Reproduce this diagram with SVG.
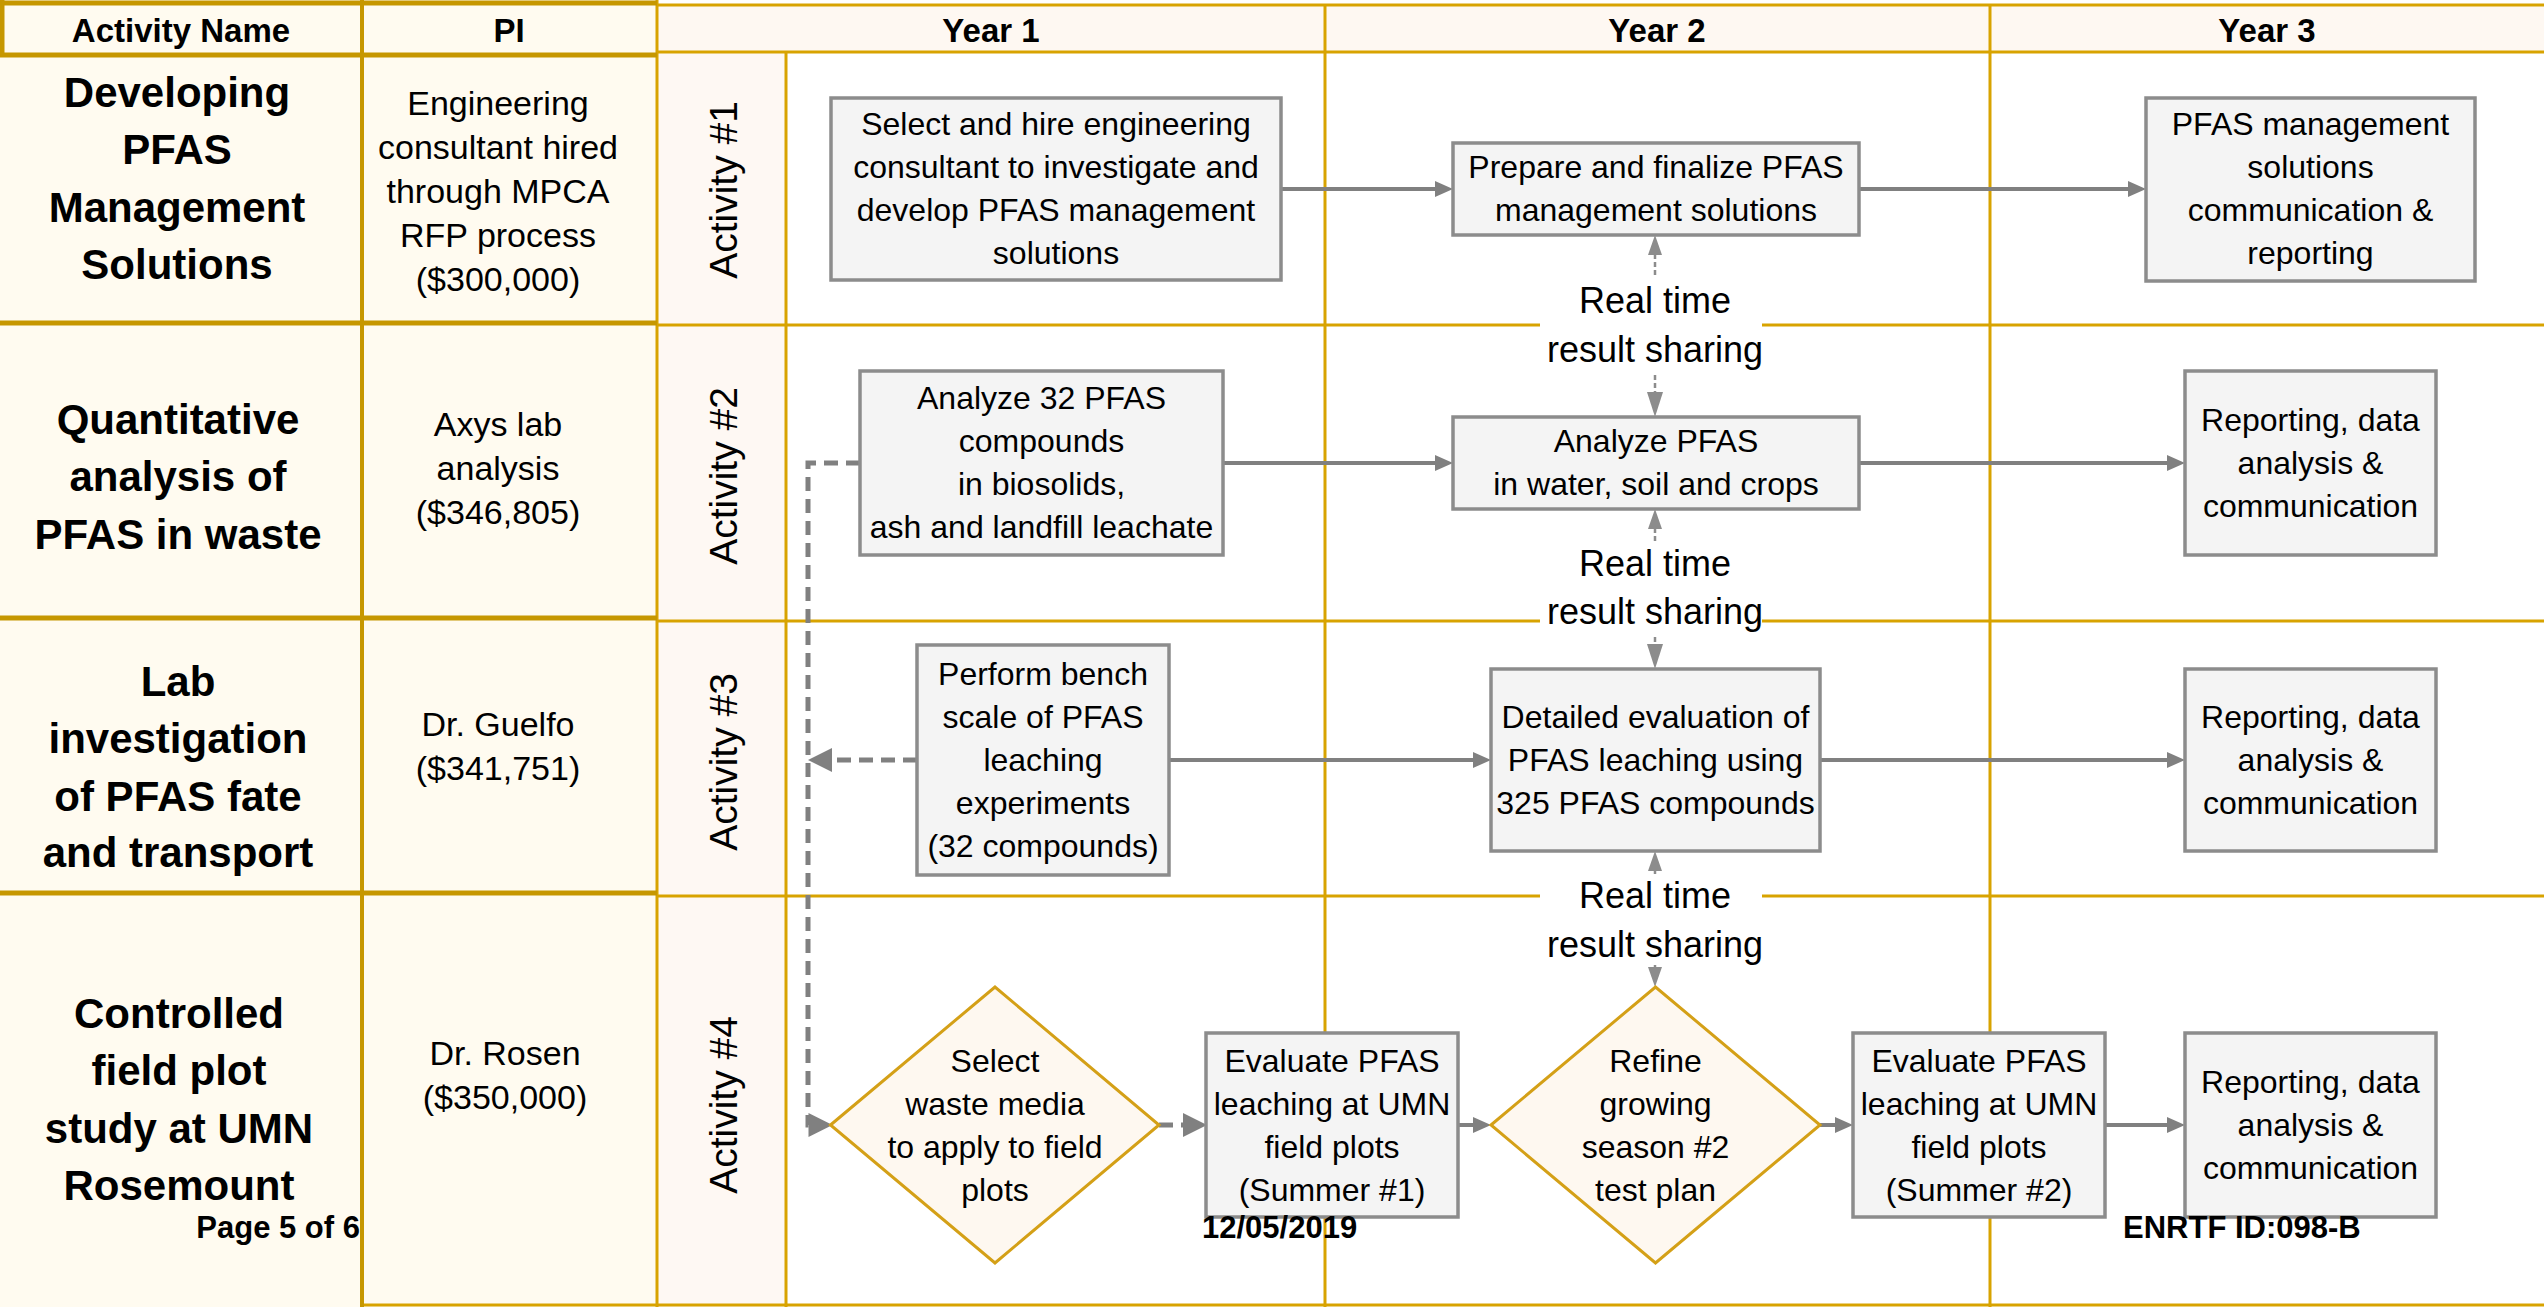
<svg xmlns="http://www.w3.org/2000/svg" width="2544" height="1307" viewBox="0 0 2544 1307">
<style>
.t{font-family:"Liberation Sans",Arial,sans-serif;font-size:32px;text-anchor:middle;fill:#000}
.pi{font-size:34px}
.lbl{font-size:42px;font-weight:bold}
.hdr{font-size:33px;font-weight:bold}
.act{font-size:39px}
.rt{font-size:36px}
.ft{font-size:31px;font-weight:bold;text-anchor:start}
.box{fill:#F4F4F4;stroke:#8C8C8C;stroke-width:3.5}
.dia{fill:#FEF8F0;stroke:#D4A017;stroke-width:3}
.gl{fill:none;stroke:#D8A300;stroke-width:3}
.gd{fill:none;stroke:#C69700;stroke-width:5}
.c{fill:none;stroke:#808080;stroke-width:4}
.dT{stroke-width:5;stroke-dasharray:14 8}
.dS{stroke:#8C8C8C;stroke-width:2.5;stroke-dasharray:5 3}
</style>
<defs>
<marker id="ah" markerUnits="userSpaceOnUse" markerWidth="18" markerHeight="16" refX="0" refY="8" orient="auto" overflow="visible"><path d="M0,0 L18,8 L0,16 z" fill="#808080"/></marker>
<marker id="ahd" markerUnits="userSpaceOnUse" markerWidth="24" markerHeight="24" refX="0" refY="12" orient="auto" overflow="visible"><path d="M0,0 L24,12 L0,24 z" fill="#808080"/></marker>
<marker id="ahs" markerUnits="userSpaceOnUse" markerWidth="20" markerHeight="14" refX="0" refY="7" orient="auto" overflow="visible"><path d="M0,0 L20,7 L0,14 z" fill="#8C8C8C"/></marker>
<marker id="ahl" markerUnits="userSpaceOnUse" markerWidth="25" markerHeight="16" refX="0" refY="8" orient="auto" overflow="visible"><path d="M0,0 L25,8 L0,16 z" fill="#8C8C8C"/></marker>
</defs>

<g id="background">
<rect x="0" y="0" width="2544" height="1307" fill="#FFFFFF"/>
<rect x="0" y="0" width="657" height="1307" fill="#FFFBF0"/>
<rect x="657" y="5" width="1887" height="47" fill="#FEF8F2"/>
<rect x="657" y="52" width="129" height="1255" fill="#FEF8F3"/>
</g>

<g id="grid">
<path class="gl" d="M657,0 V1307 M657,5 H2544 M657,52 H2544 M786,52 V1307 M1325,5 V1307 M1990,5 V1307 M657,325 H1540 M1762,325 H2544 M657,621 H1540 M1762,621 H2544 M657,896 H1540 M1762,896 H2544 M362,1305 H2544"/>
<path class="gd" d="M0,3 H657 M0,55 H657 M0,323 H657 M0,618 H657 M0,893 H657 M2,0 V55"/>
<path class="gd" style="stroke-width:4" d="M362,0 V1307"/>
</g>

<g id="header">
<text class="t hdr" x="181" y="42">Activity Name</text>
<text class="t hdr" x="509" y="42">PI</text>
<text class="t hdr" x="991" y="42">Year 1</text>
<text class="t hdr" x="1657" y="42">Year 2</text>
<text class="t hdr" x="2267" y="42">Year 3</text>
</g>

<g id="row1-labels">
<text class="t lbl" x="177" y="107">Developing<tspan x="177" dy="57">PFAS</tspan><tspan x="177" dy="58">Management</tspan><tspan x="177" dy="57">Solutions</tspan></text>
<text class="t pi" x="498" y="115">Engineering<tspan x="498" dy="44">consultant hired</tspan><tspan x="498" dy="44">through MPCA</tspan><tspan x="498" dy="44">RFP process</tspan><tspan x="498" dy="44">($300,000)</tspan></text>
<text class="t act" transform="translate(737,190) rotate(-90)">Activity #1</text>
</g>
<g id="row2-labels">
<text class="t lbl" x="178" y="434">Quantitative<tspan x="178" dy="57">analysis of</tspan><tspan x="178" dy="58">PFAS in waste</tspan></text>
<text class="t pi" x="498" y="436">Axys lab<tspan x="498" dy="44">analysis</tspan><tspan x="498" dy="44">($346,805)</tspan></text>
<text class="t act" transform="translate(737,476) rotate(-90)">Activity #2</text>
</g>
<g id="row3-labels">
<text class="t lbl" x="178" y="696">Lab<tspan x="178" dy="57">investigation</tspan><tspan x="178" dy="58">of PFAS fate</tspan><tspan x="178" dy="56">and transport</tspan></text>
<text class="t pi" x="498" y="736">Dr. Guelfo<tspan x="498" dy="44">($341,751)</tspan></text>
<text class="t act" transform="translate(737,762) rotate(-90)">Activity #3</text>
</g>
<g id="row4-labels">
<text class="t lbl" x="179" y="1028">Controlled<tspan x="179" dy="57">field plot</tspan><tspan x="179" dy="58">study at UMN</tspan><tspan x="179" dy="57">Rosemount</tspan></text>
<text class="t pi" x="505" y="1065">Dr. Rosen<tspan x="505" dy="44">($350,000)</tspan></text>
<text class="t act" transform="translate(737,1105) rotate(-90)">Activity #4</text>
</g>

<g id="connectors">
<path class="c" marker-end="url(#ah)" d="M1281,189 H1435"/>
<path class="c" marker-end="url(#ah)" d="M1859,189 H2128"/>
<path class="c" marker-end="url(#ah)" d="M1223,463 H1435"/>
<path class="c" marker-end="url(#ah)" d="M1859,463 H2167"/>
<path class="c" marker-end="url(#ah)" d="M1169,760 H1473"/>
<path class="c" marker-end="url(#ah)" d="M1820,760 H2167"/>
<path class="c" marker-end="url(#ah)" d="M1458,1125 H1473"/>
<path class="c" marker-end="url(#ah)" d="M1820,1125 H1835"/>
<path class="c" marker-end="url(#ah)" d="M2105,1125 H2167"/>
<path class="c dT" marker-end="url(#ahd)" d="M860,463 H808 V1125 H808.5"/>
<path class="c dT" marker-end="url(#ahd)" d="M917,760 H832"/>
<path class="c dT" marker-end="url(#ahd)" d="M1159,1125 H1183"/>
<path class="c dS" marker-end="url(#ahs)" d="M1655,275 V255"/>
<path class="c dS" marker-end="url(#ahl)" d="M1655,375 V392"/>
<path class="c dS" marker-end="url(#ahs)" d="M1655,541 V529"/>
<path class="c dS" marker-end="url(#ahl)" d="M1655,637 V644"/>
<path class="c dS" marker-end="url(#ahs)" d="M1655,874 V871"/>
<path class="c dS" marker-end="url(#ahs)" d="M1655,965 V967"/>
</g>

<g id="sharing-labels">
<text class="t rt" x="1655" y="313">Real time<tspan x="1655" dy="49">result sharing</tspan></text>
<text class="t rt" x="1655" y="576">Real time<tspan x="1655" dy="48">result sharing</tspan></text>
<text class="t rt" x="1655" y="908">Real time<tspan x="1655" dy="49">result sharing</tspan></text>
</g>

<g id="n-select-hire">
<rect class="box" x="831" y="98" width="450" height="182"/>
<text class="t" x="1056" y="135">Select and hire engineering<tspan x="1056" dy="43">consultant to investigate and</tspan><tspan x="1056" dy="43">develop PFAS management</tspan><tspan x="1056" dy="43">solutions</tspan></text>
</g>
<g id="n-prepare">
<rect class="box" x="1453" y="143" width="406" height="92"/>
<text class="t" x="1656" y="178">Prepare and finalize PFAS<tspan x="1656" dy="43">management solutions</tspan></text>
</g>
<g id="n-communication">
<rect class="box" x="2146" y="98" width="329" height="183"/>
<text class="t" x="2310.5" y="135">PFAS management<tspan x="2310.5" dy="43">solutions</tspan><tspan x="2310.5" dy="43">communication &amp;</tspan><tspan x="2310.5" dy="43">reporting</tspan></text>
</g>
<g id="n-analyze32">
<rect class="box" x="860" y="371" width="363" height="184"/>
<text class="t" x="1041.5" y="409">Analyze 32 PFAS<tspan x="1041.5" dy="43">compounds</tspan><tspan x="1041.5" dy="43">in biosolids,</tspan><tspan x="1041.5" dy="43">ash and landfill leachate</tspan></text>
</g>
<g id="n-analyze-water">
<rect class="box" x="1453" y="417" width="406" height="92"/>
<text class="t" x="1656" y="452">Analyze PFAS<tspan x="1656" dy="43">in water, soil and crops</tspan></text>
</g>
<g id="n-reporting2">
<rect class="box" x="2185" y="371" width="251" height="184"/>
<text class="t" x="2310.5" y="431">Reporting, data<tspan x="2310.5" dy="43">analysis &amp;</tspan><tspan x="2310.5" dy="43">communication</tspan></text>
</g>
<g id="n-bench">
<rect class="box" x="917" y="645" width="252" height="230"/>
<text class="t" x="1043" y="685">Perform bench<tspan x="1043" dy="43">scale of PFAS</tspan><tspan x="1043" dy="43">leaching</tspan><tspan x="1043" dy="43">experiments</tspan><tspan x="1043" dy="43">(32 compounds)</tspan></text>
</g>
<g id="n-detailed">
<rect class="box" x="1491" y="669" width="329" height="182"/>
<text class="t" x="1655.5" y="728">Detailed evaluation of<tspan x="1655.5" dy="43">PFAS leaching using</tspan><tspan x="1655.5" dy="43">325 PFAS compounds</tspan></text>
</g>
<g id="n-reporting3">
<rect class="box" x="2185" y="669" width="251" height="182"/>
<text class="t" x="2310.5" y="728">Reporting, data<tspan x="2310.5" dy="43">analysis &amp;</tspan><tspan x="2310.5" dy="43">communication</tspan></text>
</g>
<g id="n-select-waste">
<polygon class="dia" points="830.5,1125 995,987 1159,1125 995,1263"/>
<text class="t" x="995" y="1072">Select<tspan x="995" dy="43">waste media</tspan><tspan x="995" dy="43">to apply to field</tspan><tspan x="995" dy="43">plots</tspan></text>
</g>
<g id="n-evaluate1">
<rect class="box" x="1206" y="1033" width="252" height="184"/>
<text class="t" x="1332" y="1072">Evaluate PFAS<tspan x="1332" dy="43">leaching at UMN</tspan><tspan x="1332" dy="43">field plots</tspan><tspan x="1332" dy="43">(Summer #1)</tspan></text>
</g>
<g id="n-refine">
<polygon class="dia" points="1491,1125 1655.5,987 1820,1125 1655.5,1263"/>
<text class="t" x="1655.5" y="1072">Refine<tspan x="1655.5" dy="43">growing</tspan><tspan x="1655.5" dy="43">season #2</tspan><tspan x="1655.5" dy="43">test plan</tspan></text>
</g>
<g id="n-evaluate2">
<rect class="box" x="1853" y="1033" width="252" height="184"/>
<text class="t" x="1979" y="1072">Evaluate PFAS<tspan x="1979" dy="43">leaching at UMN</tspan><tspan x="1979" dy="43">field plots</tspan><tspan x="1979" dy="43">(Summer #2)</tspan></text>
</g>
<g id="n-reporting4">
<rect class="box" x="2185" y="1033" width="251" height="184"/>
<text class="t" x="2310.5" y="1093">Reporting, data<tspan x="2310.5" dy="43">analysis &amp;</tspan><tspan x="2310.5" dy="43">communication</tspan></text>
</g>

<g id="footer">
<text class="t ft" x="360" y="1238" style="text-anchor:end">Page 5 of 6</text>
<text class="t ft" x="1202" y="1238">12/05/2019</text>
<text class="t ft" x="2123" y="1238">ENRTF ID:098-B</text>
</g>
</svg>
